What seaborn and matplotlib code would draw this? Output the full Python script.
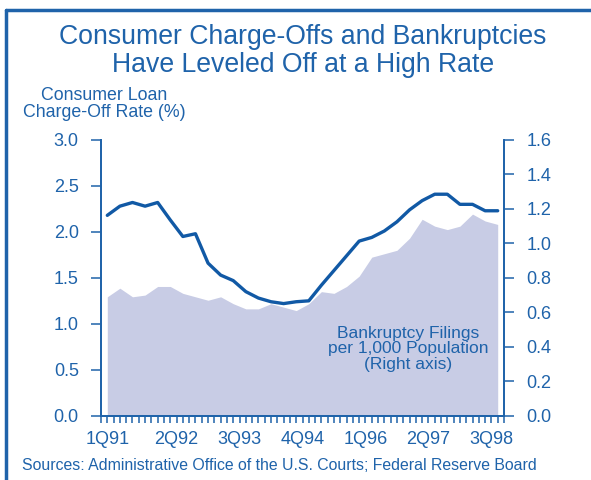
import matplotlib
matplotlib.use("Agg")
import matplotlib.pyplot as plt
from matplotlib.lines import Line2D
import seaborn as sns
import numpy as np
import pandas as pd

# quarterly data, 1Q91 - 4Q98
quarters = [f"{q}Q{y}" for y in range(91, 99) for q in range(1, 5)]

# consumer loan charge-off rate (%), left axis
charge_off_rate = [2.18, 2.28, 2.32, 2.28, 2.32, 2.13, 1.95, 1.98,
                   1.66, 1.53, 1.47, 1.35, 1.28, 1.24, 1.22, 1.24,
                   1.25, 1.42, 1.58, 1.74, 1.90, 1.94, 2.01, 2.11,
                   2.24, 2.34, 2.41, 2.41, 2.30, 2.30, 2.23, 2.23]

# bankruptcy filings per 1,000 population, right axis
bankruptcy_filings = [0.69, 0.74, 0.69, 0.70, 0.75, 0.75, 0.71, 0.69,
                      0.67, 0.69, 0.65, 0.62, 0.62, 0.65, 0.63, 0.61,
                      0.65, 0.72, 0.71, 0.75, 0.81, 0.92, 0.94, 0.96,
                      1.03, 1.14, 1.10, 1.08, 1.10, 1.17, 1.13, 1.11]

tick_labels = ["1Q91", "2Q92", "3Q93", "4Q94", "1Q96", "2Q97", "3Q98"]

df = pd.DataFrame({"quarter": quarters,
                   "rate": charge_off_rate,
                   "filings": bankruptcy_filings})
df["idx"] = np.arange(len(df))

BLUE = "#1f63aa"
LINE = "#1159a5"
AREA = "#c8cce5"

sns.set_theme(style="white")
plt.rcParams["font.family"] = ["Liberation Sans", "DejaVu Sans"]

W, H = 591, 480
fig = plt.figure(figsize=(W / 100, H / 100), dpi=100)
ax = fig.add_axes([101 / W, 1 - 415.7 / H, 403 / W, 275.7 / H])
ax2 = ax.twinx()

# area on the right axis, drawn beneath the line
ax2.fill_between(df["idx"], 0, df["filings"], color=AREA, linewidth=0)
sns.lineplot(data=df, x="idx", y="rate", ax=ax, color=LINE, linewidth=2.4)
ax.set_zorder(ax2.get_zorder() + 1)
ax.patch.set_visible(False)

ax.set_xlim(-0.5, 31.5)
ax.set_ylim(0, 3.0)
ax2.set_ylim(0, 1.6)
ax.set_xlabel("")
ax.set_ylabel("")
ax2.set_ylabel("")

ax.set_yticks(np.arange(0, 3.01, 0.5))
ax.set_yticklabels([f"{v:.1f}" for v in np.arange(0, 3.01, 0.5)])
ax2.set_yticks(np.arange(0, 1.61, 0.2))
ax2.set_yticklabels([f"{v:.1f}" for v in np.arange(0, 1.61, 0.2)])

label_pos = [0, 5.5, 10.5, 15.5, 20.5, 25.5, 30.5]
ax.set_xticks(label_pos)
ax.set_xticklabels(tick_labels)
ax.set_xticks(np.arange(-0.5, 31.51, 0.5), minor=True)

for a in (ax, ax2):
    for s in a.spines.values():
        s.set_color(BLUE)
        s.set_linewidth(1.3)
    a.spines["top"].set_visible(False)
    a.grid(False)

ax.tick_params(axis="x", which="both", direction="out", length=5, width=1.1,
               color=BLUE, labelcolor=BLUE, labelsize=13, pad=6, bottom=True)
ax.tick_params(axis="y", direction="out", length=7, width=1.1, color=BLUE,
               labelcolor=BLUE, labelsize=13, pad=9, left=True)
ax2.tick_params(axis="y", direction="out", length=7, width=1.1, color=BLUE,
                labelcolor=BLUE, labelsize=13, pad=9, right=True)

def fx(x):
    return x / W

def fy(y):
    return 1 - y / H

fig.text(fx(303), fy(51.5), "Consumer Charge-Offs and Bankruptcies\nHave Leveled Off at a High Rate",
         ha="center", va="center", color=BLUE, fontsize=19.2, linespacing=1.1)
fig.text(fx(104.5), fy(104), "Consumer Loan\nCharge-Off Rate (%)",
         ha="center", va="center", color=BLUE, fontsize=12.8, linespacing=1.05)
fig.text(fx(408), fy(349), "Bankruptcy Filings\nper 1,000 Population\n(Right axis)",
         ha="center", va="center", color=BLUE, fontsize=12.5, linespacing=1.08)
fig.text(fx(22), fy(465), "Sources: Administrative Office of the U.S. Courts; Federal Reserve Board",
         ha="left", va="center", color=BLUE, fontsize=11.4)

# frame round the panel (left and top edges)
fig.add_artist(Line2D([fx(6), fx(6)], [fy(10), 0], color=BLUE, linewidth=2.5))
fig.add_artist(Line2D([fx(6), 1], [fy(10), fy(10)], color=BLUE, linewidth=2.5))

fig.savefig("out.png", dpi=100)
